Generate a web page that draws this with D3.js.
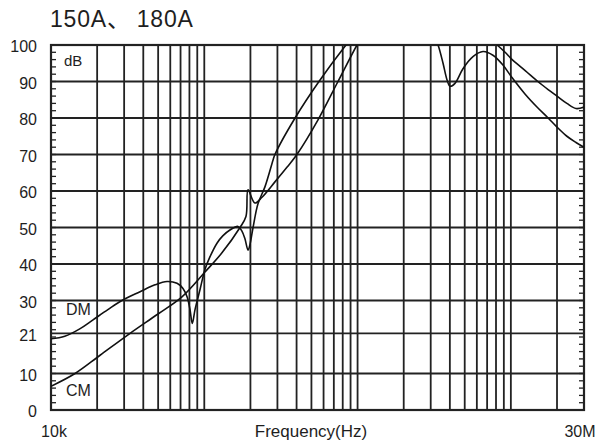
<!DOCTYPE html>
<html>
<head>
<meta charset="utf-8">
<script src="https://cdn.jsdelivr.net/npm/d3@7"></script>
<style>
  html, body { margin: 0; padding: 0; background: #fff; }
  svg { display: block; }
  text { font-family: "Liberation Sans", Arial, "Noto Sans CJK SC", sans-serif; fill: #1e1e1e; }
</style>
</head>
<body>
<svg id="chart" width="598" height="444"></svg>
<script>
// ---------- data ----------
const titleParts = ["150A、", "180A"];
const yUnit = "dB";
const xTitle = "Frequency(Hz)";
const xDomain = [1e4, 3e7];
const xEndLabels = ["10k", "30M"];
const yTickValues = [0, 10, 21, 30, 40, 50, 60, 70, 80, 90, 100];
const seriesNames = ["DM", "CM"];

// DM (differential mode) – null = curve leaves the chart (above 100 dB)
const dmFreq = [10000, 12300, 15500, 18800, 23500, 29000, 38100, 47700, 57100, 66400, 72600, 77200, 80700, 83500, 87000, 93800,
  101000, 109000, 121000, 132000, 147000, 166000, 176000, 184000, 193000, 199000, 208000, 224000, 249000, 281000,
  289000, 391000, 560000, 840000, 920000, null,
  3150000, 3350000, 3610000, 3830000, 4010000, 4320000, 4870000, 5660000, 6580000, 7640000, 8880000,
  10200000, 12400000, 14800000, 17500000, 20000000, 23200000, 26600000, 30000000];
const dmVal = [19.5, 20.2, 22.3, 24.7, 27.5, 30, 32.4, 34.3, 35.2, 34.7, 33.3, 31, 27.5, 23.7, 27.5, 33,
  38.5, 42, 45.7, 47.7, 49.3, 50.3, 49, 47, 43.8, 45.5, 50, 56.5, 61.2, 68.5,
  70, 80, 90, 100, 102, null,
  102.5, 100, 95, 90.5, 88.7, 89.5, 93.5, 96.8, 98.2, 97.2, 94.5,
  91, 86.5, 83, 80, 77.5, 75, 73.3, 72];

// CM (common mode)
const cmFreq = [10000, 14350, 20900, 32800, 49900, 71500, 101000, 130000, 171000, 187000, 193000, 214000,
  238000, 289000, 346000, 402000, 552000, 745000, 991000, 1060000, null,
  7600000, 8130000, 9170000, 10200000, 12400000, 15000000, 17500000, 20000000, 23200000, 26600000, 30000000];
const cmVal = [6.5, 10, 15, 21, 26.3, 31, 37.8, 43, 50, 53, 60.3, 56.7,
  58.3, 62.5, 66.5, 70, 79.5, 90, 100, 102, null,
  101, 100, 98, 96, 93, 90, 87.8, 86, 84, 82.6, 83];

// ---------- layout ----------
const svg = d3.select("#chart");
const L = 51, R = 584, T = 45, B = 410;
const ink = "#222";

const x = d3.scaleLog().domain(xDomain).range([L, R]);
const y = d3.scaleLinear().domain([0, 100]).range([B, T]);

svg.append("rect").attr("width", 598).attr("height", 444).attr("fill", "#fff");

// vertical grid (1..9 per decade)
const xGrid = x.ticks().filter(v => v > xDomain[0] && v < xDomain[1]);
svg.append("g").selectAll("line").data(xGrid).join("line")
  .attr("x1", d => x(d)).attr("x2", d => x(d))
  .attr("y1", T).attr("y2", B)
  .attr("stroke", ink).attr("stroke-width", 1.8);

// horizontal grid
svg.append("g").selectAll("line").data(yTickValues.filter(v => v > 0 && v < 100)).join("line")
  .attr("x1", L).attr("x2", R)
  .attr("y1", d => y(d)).attr("y2", d => y(d))
  .attr("stroke", ink).attr("stroke-width", 1.8);

// minor ticks (every 2 dB) on left and right, inward
const minor = d3.range(2, 100, 2);
svg.append("g").selectAll("line").data(minor).join("line")
  .attr("x1", L).attr("x2", L + 5)
  .attr("y1", d => y(d)).attr("y2", d => y(d))
  .attr("stroke", ink).attr("stroke-width", 1.3);
svg.append("g").selectAll("line").data(minor).join("line")
  .attr("x1", R).attr("x2", R - 5)
  .attr("y1", d => y(d)).attr("y2", d => y(d))
  .attr("stroke", ink).attr("stroke-width", 1.3);

// frame
svg.append("rect").attr("x", L).attr("y", T).attr("width", R - L).attr("height", B - T)
  .attr("fill", "none").attr("stroke", ink).attr("stroke-width", 2.2);

// clip
svg.append("clipPath").attr("id", "plot").append("rect")
  .attr("x", L).attr("y", T).attr("width", R - L).attr("height", B - T);

const line = d3.line()
  .defined(d => d[0] != null && d[1] != null)
  .x(d => x(d[0])).y(d => y(d[1]))
  .curve(d3.curveCatmullRom.alpha(0.5));

const series = [d3.zip(dmFreq, dmVal), d3.zip(cmFreq, cmVal)];
svg.append("g").attr("clip-path", "url(#plot)").selectAll("path").data(series).join("path")
  .attr("d", line).attr("fill", "none").attr("stroke", "#111").attr("stroke-width", 1.6);

// y labels
svg.append("g").selectAll("text").data(yTickValues).join("text")
  .attr("x", 37).attr("y", d => y(d) + 3)
  .attr("text-anchor", "end").attr("dominant-baseline", "middle")
  .attr("font-size", 16).text(d => d);

// unit
svg.append("text").attr("x", 64).attr("y", 66).attr("font-size", 15).text(yUnit);

// series labels
svg.append("text").attr("x", 66).attr("y", 315).attr("font-size", 16).text(seriesNames[0]);
svg.append("text").attr("x", 66).attr("y", 396).attr("font-size", 16).text(seriesNames[1]);

// x labels
svg.append("text").attr("x", x(xDomain[0]) + 3).attr("y", 437).attr("text-anchor", "middle")
  .attr("font-size", 16).text(xEndLabels[0]);
svg.append("text").attr("x", x(xDomain[1]) - 4).attr("y", 437).attr("text-anchor", "middle")
  .attr("font-size", 16).text(xEndLabels[1]);
svg.append("text").attr("x", 311).attr("y", 437).attr("text-anchor", "middle")
  .attr("font-size", 17).text(xTitle);

// title
const t = svg.append("text").attr("x", 50).attr("y", 27).attr("font-size", 23).attr("letter-spacing", 0.8);
t.append("tspan").text(titleParts[0]);
t.append("tspan").attr("dx", 6).text(titleParts[1]);
</script>
</body>
</html>
